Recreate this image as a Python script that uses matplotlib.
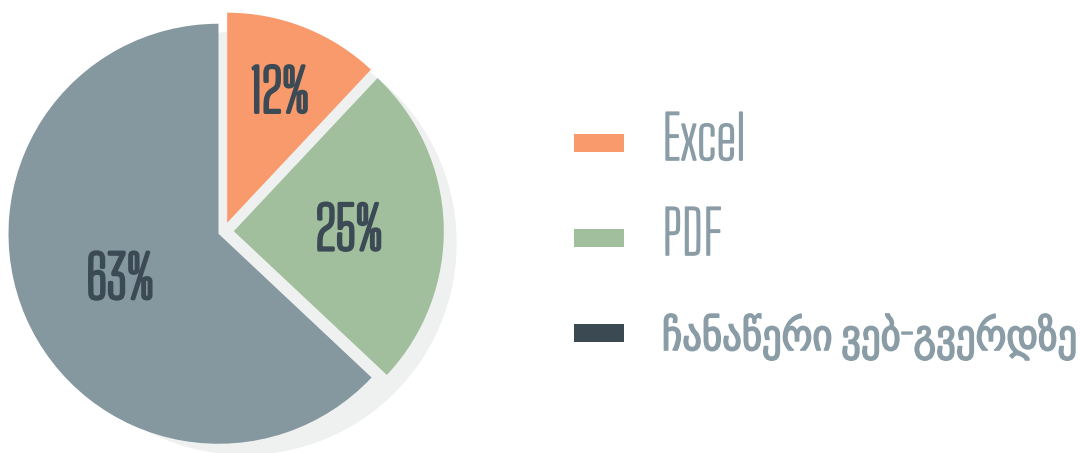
import matplotlib
matplotlib.use("Agg")
import matplotlib.pyplot as plt
from matplotlib.patches import Circle, Rectangle
import matplotlib.patheffects as pe
import numpy as np

# ---- data ----
categories = ["Excel", "PDF", "ჩანაწერი ვებ-გვერდზე"]
values = [12, 25, 63]
pct_labels = [f"{v}%" for v in values]

# ---- style ----
slice_colors = ["#F99A6C", "#A1BF9C", "#85979F"]
legend_colors = ["#F99A6C", "#A1BF9C", "#3B4A52"]
pct_color = "#3B4A54"
legend_text_color = "#8A9CA5"
shadow_color = "#EFF1F0"
explode_frac = [0.045, 0.048, 0.027]
label_dist = [0.68, 0.55, 0.51]
FAM = ["Big Shoulders Text", "DejaVu Sans"]

W, H = 1080, 453
fig = plt.figure(figsize=(W / 100, H / 100), dpi=100)
ax = fig.add_axes([0, 0, 1, 1])

cx, cy, R = 223.7, H - 231.5, 210

# shadow
ax.add_patch(Circle((cx + 21, cy - 11.5), 212, color=shadow_color, lw=0, zorder=0))

wedges, _ = ax.pie(values, explode=[e * R for e in explode_frac], colors=slice_colors,
                   startangle=90, counterclock=False, center=(cx, cy), radius=R,
                   wedgeprops=dict(linewidth=0, zorder=1))

cap = 45  # approx cap height in px
for w, lab, d in zip(wedges, pct_labels, label_dist):
    ang = np.deg2rad((w.theta1 + w.theta2) / 2)
    x = w.center[0] + d * w.r * np.cos(ang)
    y = w.center[1] + d * w.r * np.sin(ang)
    ax.text(x, y - cap / 2, lab, ha="center", va="baseline", fontsize=42, color=pct_color,
            family=FAM, fontstretch="condensed", zorder=3,
            path_effects=[pe.withStroke(linewidth=2.2, foreground=pct_color)])

# legend (manual)
lx, ly0, gap = 574, H - 143, 95
sw, sh = 50, 18
leg_sizes = [43, 43, 31]
for i, (cat, col) in enumerate(zip(categories, legend_colors)):
    yc = ly0 - i * gap
    ax.add_patch(Rectangle((lx, yc - sh / 2), sw, sh, color=col, lw=0))
    ax.text(lx + sw + 38, yc - 17, cat, ha="left", va="baseline", fontsize=leg_sizes[i],
            color=legend_text_color, family=FAM, fontstretch="condensed",
            path_effects=[pe.withStroke(linewidth=1.2, foreground=legend_text_color)])

ax.set_xlim(0, W)
ax.set_ylim(0, H)
ax.set_aspect("equal")
ax.axis("off")
fig.savefig("out.png", dpi=100)
